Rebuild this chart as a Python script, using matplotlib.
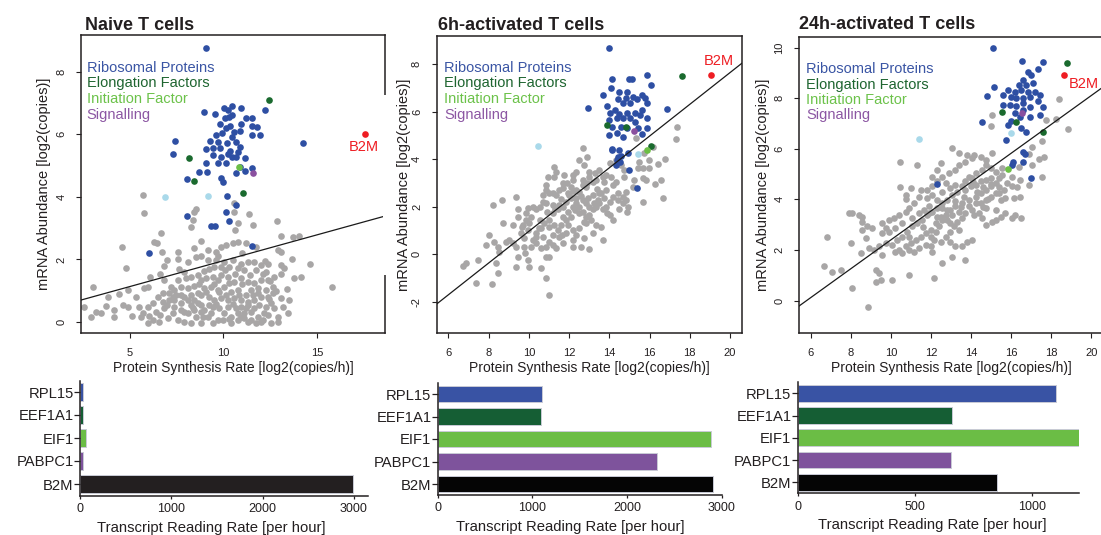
import matplotlib
matplotlib.use("Agg")
import matplotlib.pyplot as plt
import numpy as np
from matplotlib.patches import Rectangle

plt.rcParams['font.family'] = ['Liberation Sans', 'DejaVu Sans']
plt.rcParams['axes.unicode_minus'] = False

W, H = 1101, 535

# ---- data ----
titles = ["Naive T cells", "6h-activated T cells", "24h-activated T cells"]
legend_labels = ["Ribosomal Proteins", "Elongation Factors", "Initiation Factor", "Signalling"]
legend_colors = ["#3a55a4", "#1e6530", "#6cc24a", "#8c57a3"]

# other genes (grey)
naive_gray = np.array([
    (5.68,4.06),(5.73,3.47),(8.53,3.60),(8.44,3.53),(8.35,3.26),(8.26,3.05),(10.58,3.79),(10.54,3.53),
    (10.76,3.15),(10.62,2.94),(11.56,3.10),(11.35,3.44),(12.86,3.23),(6.66,2.83),(6.30,2.57),(6.44,2.51),
    (4.55,2.41),(6.71,2.25),(7.58,2.25),(8.44,2.35),(8.80,2.59),(9.15,2.30),(9.60,2.25),(9.87,2.41),
    (10.13,2.46),(10.49,2.51),(10.76,2.57),(11.20,2.51),(11.74,2.41),(13.08,2.75),(13.70,2.73),(14.06,2.75),
    (12.90,2.30),(13.08,2.25),(13.65,2.03),(14.63,1.87),(13.79,1.40),(14.14,1.43),(15.80,1.11),(4.79,1.72),
    (6.98,1.98),(6.84,1.79),(7.55,2.03),(7.64,1.68),(8.08,1.93),(8.53,2.09),(8.80,2.11),(9.15,1.98),
    (9.60,1.98),(10.04,1.93),(10.49,1.98),(10.94,1.87),(11.29,1.93),(11.65,1.93),(12.01,1.82),(12.36,1.87),
    (13.08,1.82),(13.25,1.72),(13.08,1.55),(12.72,1.45),(12.27,1.61),(11.74,1.66),(11.11,1.66),(10.76,1.72),
    (10.31,1.77),(9.87,1.77),(9.47,1.75),(8.98,1.64),(8.62,1.50),(8.26,1.45),(7.91,1.61),(7.55,1.34),
    (7.73,1.13),(7.19,1.13),(6.84,1.34),(6.62,1.55),(6.09,1.45),(5.77,1.08),(5.95,1.13),(3.00,1.11),
    (4.88,1.02),(3.81,0.81),(2.56,0.49),(3.18,0.33),(2.91,0.17),(3.45,0.28),(4.16,0.38),(4.13,0.15),
    (4.61,0.54),(4.88,0.49),(5.50,0.49),(5.68,0.28),(5.59,0.17),(5.95,0.49),(6.21,0.60),(6.39,0.33),
    (6.21,0.06),(6.62,0.22),(6.84,0.44),(7.01,0.12),(6.75,0.92),(7.10,0.92),(7.37,1.02),(7.73,0.86),
    (8.08,1.08),(8.44,1.15),(8.62,0.92),(8.80,1.34),(9.06,1.40),(9.42,1.45),(9.69,1.34),(9.87,1.50),
    (10.22,1.45),(10.58,1.29),(10.94,1.40),(11.29,1.29),(11.65,1.24),(12.01,1.34),(12.36,1.34),(12.63,1.13),
    (12.27,1.02),(11.83,0.92),(11.47,1.02),(11.20,0.86),(10.76,1.02),(10.40,0.97),(10.04,1.13),(9.69,1.02),
    (9.33,1.13),(8.98,1.08),(8.44,0.70),(8.08,0.70),(7.73,0.60),(7.37,0.49),(7.28,0.28),(7.55,0.06),
    (7.91,0.01),(8.08,0.28),(8.44,0.38),(8.80,0.33),(9.15,0.17),(9.42,-0.04),(9.69,0.06),(10.04,0.28),
    (10.40,0.17),(10.76,0.06),(11.11,0.28),(11.47,0.33),(11.83,0.17),(12.09,0.06),(12.36,0.22),(12.72,0.44),
    (13.08,0.76),(13.43,0.28),(12.90,0.17),(13.16,0.49),(13.52,0.70),(8.26,-0.04),(8.80,-0.02),(10.40,-0.04),
    (11.29,0.01),(12.01,0.01),(5.95,-0.04),(6.57,0.01),(6.75,0.65),(7.10,0.70),(7.28,0.81),(7.91,0.81),
    (8.26,0.86),(8.80,0.86),(9.24,0.81),(9.51,0.70),(9.87,0.76),(10.22,0.70),(10.58,0.76),(10.94,0.70),
    (11.29,0.65),(11.65,0.70),(12.01,0.81),(12.36,0.81),(12.63,0.92),(9.42,0.49),(9.78,0.44),(10.22,0.49),
    (10.67,0.44),(10.94,0.49),(11.29,0.54),(11.65,0.44),(12.27,0.49),(12.54,0.60),(8.80,0.54),(9.24,0.54),
    (8.26,0.54),(7.91,0.33),(7.73,0.38),(7.37,0.70),(8.89,0.17),(8.53,0.15),(9.96,0.06),(10.76,0.28),
    (11.11,0.12),(11.47,0.06),(11.74,-0.04),(12.54,-0.04),(12.90,0.01),
    (8.35,0.45),(8.62,0.62),(8.98,0.40),(9.33,0.30),(9.60,0.58),(9.78,0.95),(10.13,0.85),(10.49,0.58),
    (10.85,0.85),(11.20,0.45),(11.56,0.85),(11.92,0.55),(12.18,0.30),(12.45,0.75),(12.80,1.00),(10.30,0.10),
    (10.95,0.15),(11.85,1.10),(9.05,0.95),(8.70,1.20),(9.50,1.20),(10.30,1.25),(11.00,1.20),(11.40,1.50),
    (12.10,1.55),(12.50,1.30),(9.20,1.70),(10.10,1.65),(10.60,1.55),(9.70,2.10),(11.00,2.20),(7.00,0.55),
    (6.50,0.80),(7.45,0.85),(5.30,0.80),(5.10,0.20),(3.70,0.50),(4.40,0.90),(6.00,0.20),(13.40,1.05),
    (12.20,1.95),(8.00,1.40),
])
h6_gray = np.array([
    (17.35,5.37),(17.32,4.84),(16.79,4.00),(16.44,3.80),(15.99,3.97),(15.99,3.62),(15.66,3.62),(15.41,3.62),
    (15.46,3.90),(16.57,3.13),(16.29,2.96),(15.83,3.13),(15.66,3.20),(16.69,2.36),(15.66,2.22),(14.83,2.64),
    (14.83,2.29),(14.92,2.01),(14.87,1.80),(14.67,2.15),(14.42,2.29),(14.17,2.43),(14.01,2.22),(13.84,2.01),
    (14.01,1.65),(13.67,1.89),(13.51,2.15),(13.34,2.01),(13.18,1.89),(13.09,1.44),(12.85,1.59),(12.68,1.80),
    (12.51,2.01),(12.35,2.15),(12.18,2.01),(12.10,1.59),(11.93,1.80),(11.85,1.44),(11.69,1.59),(11.44,1.89),
    (11.19,1.73),(11.02,1.44),(10.77,1.30),(10.53,1.44),(10.36,1.89),(10.19,2.01),(9.95,1.94),(9.86,1.44),
    (10.03,1.30),(9.70,1.23),(9.45,1.89),(9.37,2.40),(8.67,2.29),(8.21,2.08),(8.70,1.33),(9.20,1.23),
    (9.62,0.88),(9.78,0.67),(9.95,1.02),(10.19,0.60),(10.36,0.88),(10.61,1.09),(11.02,1.16),(11.27,1.23),
    (11.44,1.02),(11.65,0.81),(11.93,1.23),(12.18,1.02),(12.51,1.09),(12.85,1.30),(13.34,1.23),(13.59,1.16),
    (13.18,0.88),(13.67,0.60),(14.17,1.44),(14.50,1.89),(15.16,2.85),(15.25,3.13),(14.75,3.27),(14.34,3.06),
    (14.09,3.27),(13.84,3.34),(13.76,3.06),(13.34,3.13),(13.18,3.06),(13.01,3.27),(12.85,2.85),(12.68,2.92),
    (12.51,2.64),(12.35,2.71),(12.10,2.85),(11.93,2.57),(11.69,2.78),(11.52,2.71),(11.35,2.50),(11.19,2.57),
    (11.02,2.57),(10.86,2.71),(10.69,2.50),(10.86,2.92),(10.94,3.27),(11.27,3.27),(11.35,3.48),(11.27,3.69),
    (11.69,2.99),(11.77,3.34),(12.18,3.34),(12.32,3.48),(12.51,3.97),(12.68,4.46),(12.89,4.11),(12.76,3.76),
    (12.68,3.13),(13.01,3.48),(13.31,3.41),(13.51,3.55),(13.67,3.27),(14.01,3.83),(14.34,3.97),(14.59,3.76),
    (14.75,3.55),(13.84,2.71),(13.51,2.57),(13.18,2.50),(12.93,2.36),(12.68,2.29),(12.35,2.36),(12.10,2.36),
    (11.85,2.22),(11.69,2.01),(11.52,2.08),(11.19,2.08),(10.86,2.15),(10.69,2.22),(10.53,2.01),(13.76,2.36),
    (13.43,2.29),(13.26,2.15),(14.42,2.57),(14.67,2.43),(12.85,2.15),(12.51,1.73),(13.01,1.65),(8.04,0.81),
    (7.88,0.39),(8.29,0.53),(8.45,0.32),(8.54,0.11),(8.87,0.53),(9.03,0.60),(9.20,0.46),(9.37,0.32),
    (9.78,0.32),(9.83,0.04),(10.11,0.32),(10.36,0.46),(10.61,0.25),(10.86,0.32),(11.02,0.53),(11.19,0.39),
    (11.35,0.25),(11.69,0.46),(12.18,0.32),(12.60,0.32),(13.01,0.21),(6.88,-0.35),(6.72,-0.49),(7.46,-0.24),
    (8.37,-0.38),(9.45,-0.10),(9.95,-0.24),(10.03,-0.52),(9.37,-0.55),(10.86,-0.10),(11.02,-0.10),(10.58,-0.59),
    (8.45,-0.80),(7.35,-1.22),(8.17,-1.26),(10.86,-0.98),(10.99,-1.73),(10.36,0.74),(10.69,0.74),(11.19,0.81),
    (11.52,0.74),(11.85,0.88),(12.18,0.60),(12.35,0.81),(12.76,0.67),(9.66,1.16),(9.45,1.59),(9.86,1.73),
    (10.11,1.59),(15.33,4.88),(16.16,4.53),(15.74,4.25),
    (12.0,2.5),(12.6,2.45),(13.0,2.0),(12.3,1.85),(11.6,2.35),(13.6,2.6),(12.9,3.0),(11.9,3.0),
    (13.4,2.75),(12.2,2.65),(11.3,1.9),(10.9,1.8),(14.2,2.9),(13.9,1.75),(12.75,1.35),(10.5,1.1),
    (11.6,1.25),(12.2,3.15),
])
h24_gray = np.array([
    (15.02,7.34),(14.97,6.90),(17.71,7.14),(18.21,7.17),(18.84,6.77),(17.54,6.29),(17.62,5.69),(17.51,4.88),
    (16.88,4.57),(17.04,5.36),(17.37,5.59),(17.04,6.09),(16.88,5.80),(16.38,5.30),(16.46,4.77),(16.05,4.51),
    (16.30,4.48),(16.46,4.11),(16.13,4.05),(15.71,4.05),(15.47,3.98),(15.71,3.45),(16.21,3.39),(16.51,3.26),
    (16.05,3.26),(15.47,3.32),(15.22,3.19),(15.05,3.12),(14.72,2.99),(14.55,3.26),(14.39,3.45),(14.05,3.59),
    (13.72,3.45),(13.55,3.26),(13.31,3.12),(13.14,2.94),(13.39,2.79),(12.97,2.73),(12.73,2.53),(12.97,2.33),
    (13.22,2.14),(13.55,2.14),(13.80,2.33),(14.05,2.40),(13.72,1.61),(13.06,1.74),(12.56,1.48),(12.14,0.88),
    (12.06,1.94),(11.98,2.14),(12.14,2.40),(12.39,2.94),(12.56,3.19),(12.73,3.39),(12.97,3.59),(13.22,3.72),
    (13.55,3.85),(13.89,3.98),(14.22,4.11),(14.47,4.24),(14.72,4.38),(14.97,4.51),(15.22,4.64),(15.38,4.84),
    (15.55,4.97),(15.22,5.10),(14.97,5.23),(14.72,5.36),(14.55,5.17),(14.22,5.03),(14.05,4.84),(13.72,4.71),
    (13.55,4.51),(13.31,4.31),(13.06,4.18),(12.81,3.98),(12.56,3.85),(12.31,3.65),(12.06,3.52),(11.81,3.39),
    (11.56,3.19),(11.31,3.06),(11.06,2.94),(10.81,2.73),(10.57,2.53),(10.32,2.40),(10.07,2.20),(10.40,2.00),
    (10.73,2.14),(10.98,2.27),(11.23,2.40),(11.48,2.53),(11.73,2.66),(11.98,2.79),(12.23,3.06),(12.48,3.32),
    (12.56,3.65),(12.31,3.98),(12.06,4.18),(11.81,4.38),(12.06,4.51),(12.31,4.71),(12.56,4.90),(12.89,5.03),
    (13.22,5.17),(13.39,5.36),(13.72,5.49),(14.05,5.63),(14.14,5.76),(14.47,5.69),(14.72,5.56),(15.02,5.83),
    (13.80,5.76),(13.39,5.83),(13.06,6.02),(12.48,5.43),(12.31,5.17),(12.06,4.88),(11.31,5.36),(10.48,5.49),
    (10.48,4.48),(10.73,4.18),(10.73,4.01),(10.98,4.44),(11.15,3.85),(11.40,4.11),(11.48,4.38),(11.81,4.05),
    (12.56,4.31),(12.97,4.44),(13.22,4.57),(13.72,4.38),(13.97,4.51),(14.22,4.57),(14.47,4.71),(14.72,4.77),
    (14.97,4.84),(15.38,4.24),(15.63,4.38),(15.80,4.64),(16.05,4.90),(15.55,5.23),(15.22,4.24),(14.97,4.11),
    (14.72,3.98),(14.47,3.85),(14.22,3.85),(13.89,3.72),(14.14,3.39),(14.72,3.65),(15.22,3.59),(13.39,3.52),
    (13.06,3.39),(12.81,3.19),(12.97,3.06),(12.23,2.73),(11.98,2.53),(12.48,2.33),(11.73,2.20),(11.40,2.07),
    (11.15,1.94),(10.90,2.00),(10.57,1.87),(10.23,1.94),(9.74,2.27),(9.40,2.14),(9.15,2.00),(9.57,1.81),
    (9.24,1.21),(9.40,1.08),(9.49,0.82),(10.07,0.82),(9.24,0.75),(8.90,2.07),(8.74,2.46),(8.57,2.79),
    (8.82,2.94),(9.07,2.86),(9.57,3.06),(9.74,2.86),(9.90,3.19),(10.15,3.26),(10.40,3.39),(10.73,3.52),
    (10.90,3.65),(8.57,3.12),(8.41,3.39),(8.07,3.45),(7.91,3.45),(8.57,3.32),(7.99,2.27),(8.49,1.90),
    (7.49,1.21),(7.08,1.15),(6.66,1.35),(6.83,2.50),(8.07,0.49),(8.87,-0.24),(10.90,1.02),(9.90,2.73),
    (10.23,2.86),(9.57,2.66),(10.57,3.06),(11.06,3.26),(11.40,3.45),(11.65,3.59),(11.89,3.72),(18.39,7.97),
    (14.3,4.3),(14.6,4.5),(14.85,4.0),(13.65,4.1),(14.1,4.7),(15.0,4.6),(13.5,3.7),(12.8,3.6),
    (12.3,3.3),(11.9,3.45),(13.2,3.95),(14.6,3.7),(15.4,4.5),(13.9,4.9),(12.75,4.65),(11.6,2.9),
    (10.9,2.5),
])

# ribosomal proteins (blue)
naive_ribo = np.array([
    (9.09,8.76),(8.97,6.70),(9.57,6.65),(10.02,6.83),(10.25,6.77),(10.48,6.90),(10.94,6.83),(12.24,6.77),
    (10.27,6.56),(10.07,6.51),(11.23,6.51),(11.50,6.51),(10.48,6.60),(9.80,6.33),(10.37,6.26),(10.16,6.19),
    (10.96,6.33),(11.50,6.26),(11.80,6.24),(7.40,5.79),(9.59,5.97),(9.94,6.05),(10.43,5.92),(10.91,6.11),
    (10.57,6.08),(11.50,5.97),(11.98,5.97),(14.25,5.73),(9.27,5.79),(9.72,5.76),(10.20,5.71),(10.69,5.76),
    (10.87,5.60),(9.04,5.53),(9.84,5.55),(9.45,5.57),(10.34,5.47),(10.78,5.44),(7.28,5.37),(9.45,5.34),
    (9.89,5.28),(10.25,5.37),(10.48,5.28),(10.69,5.26),(11.14,5.23),(9.04,5.07),(10.16,5.07),(9.72,5.09),
    (10.91,4.96),(8.70,4.78),(9.13,4.79),(10.69,4.75),(11.14,4.83),(11.55,4.91),(8.06,4.56),(9.89,4.59),
    (9.95,4.48),(10.21,4.03),(10.69,3.74),(8.03,3.39),(10.12,3.53),(10.30,3.23),(9.31,3.07),(9.54,3.07),
    (6.01,2.22),(11.53,2.43),
])
h6_ribo = np.array([
    (14.00,8.70),(14.15,7.37),(14.99,7.38),(15.11,7.38),(15.86,7.55),(16.06,7.13),(14.07,6.99),(13.71,6.71),
    (14.50,6.85),(14.86,6.85),(14.45,6.53),(14.83,6.57),(15.20,6.64),(15.36,6.53),(15.61,6.71),(15.78,6.57),
    (14.70,6.36),(15.03,6.36),(15.86,6.36),(16.89,6.11),(12.96,6.18),(13.90,6.25),(14.28,6.08),(14.04,5.94),
    (14.50,5.91),(14.86,5.97),(15.28,5.97),(15.61,6.08),(15.53,5.87),(15.86,5.73),(14.37,5.73),(14.70,5.73),
    (15.03,5.73),(14.00,5.66),(14.15,5.38),(14.57,5.38),(14.90,5.31),(15.28,5.59),(15.44,5.31),(15.86,5.31),
    (14.00,5.03),(14.37,5.10),(14.70,4.93),(15.61,5.07),(14.15,4.42),(14.50,4.39),(14.95,4.25),(14.37,3.97),
    (14.53,3.87),(14.33,3.76),(14.99,3.55),(15.36,2.78),(14.45,4.11),(14.12,4.39),(14.60,4.15),
])
h24_ribo = np.array([
    (15.10,10.0),(16.54,9.47),(17.56,9.42),(17.34,9.16),(15.13,8.46),(14.77,8.10),(14.52,7.04),(16.84,9.05),
    (17.01,8.92),(16.60,8.72),(16.40,8.53),(16.76,8.53),(17.09,8.59),(15.85,8.33),(16.18,8.26),(16.51,8.33),
    (16.84,8.26),(17.18,8.26),(17.42,8.13),(15.60,8.13),(16.01,8.06),(16.26,8.00),(16.59,8.00),(16.93,8.06),
    (17.34,7.87),(16.59,7.80),(16.26,7.70),(16.93,7.67),(17.59,7.64),(15.60,7.74),(15.93,7.74),(16.59,7.54),
    (17.42,7.34),(16.93,7.25),(16.01,7.08),(15.85,6.95),(16.51,6.81),(16.73,6.68),(15.76,6.35),(16.59,5.89),
    (16.68,5.80),(16.59,5.49),(16.10,5.49),(16.06,5.34),(17.01,4.84),(12.28,4.61),(16.43,7.27),(16.18,7.40),
])

# elongation factors (dark green), initiation factor, signalling, light blue genes
naive_elong = np.array([(12.44,7.09),(8.15,5.25),(8.43,4.50),(11.05,4.13)])
h6_elong = np.array([(17.60,7.51),(13.90,5.45),(14.83,5.38),(16.08,4.58)])
h24_elong = np.array([(18.79,9.41),(15.52,7.47),(16.26,7.04),(17.59,6.68)])
naive_init = np.array([(10.82,4.96)])
h6_init = np.array([(15.86,4.39)])
h24_init = np.array([(15.85,5.20)])
naive_signal = np.array([(11.58,4.75)])
h6_signal = np.array([(15.23,5.21)])
h24_signal = np.array([(16.53,7.40)])
naive_other = np.array([(6.87,4.00),(9.18,4.03)])
h6_other = np.array([(10.44,4.58),(15.41,4.23)])
h24_other = np.array([(11.40,6.38),(15.98,6.62)])
b2m_points = [(17.58,6.01), (19.04,7.54), (18.64,8.91)]

# fitted lines (slope, intercept)
fits = [(0.165, 0.31), (0.668, -5.71), (0.571, -3.31)]

genes = ["RPL15", "EEF1A1", "EIF1", "PABPC1", "B2M"]
rates_naive = [36, 38, 66, 34, 2993]
rates_6h = [1105, 1091, 2883, 2319, 2904]
rates_24h = [1102, 661, 1203, 655, 850]

# ---- styling ----
GRAY = "#a8a6a6"
BLUE = "#2e4fa3"
DKGREEN = "#1a6a2e"
LTGREEN = "#6cbf45"
PURPLE = "#8a509f"
LTBLUE = "#a9d9ea"
RED = "#ee1d23"
INK = "#231f20"
DOT = 23
bar_colors = ["#3953a4", "#155e34", "#6bbd45", "#7e539c", "#050505"]


def px_axes(fig, left, top, right, bottom):
    return fig.add_axes([left / W, 1 - bottom / H, (right - left) / W, (bottom - top) / H])


fig = plt.figure(figsize=(W / 100, H / 100), dpi=100)

scatter_boxes = [(81, 35, 385, 333), (436.7, 36, 741.7, 333), (799, 36.7, 1103.5, 333)]
xlims = [(2.38, 18.64), (5.42, 20.58), (5.42, 20.6)]
ylims = [(-0.35, 9.17), (-3.31, 9.19), (-1.28, 10.43)]
xticks = [[5, 10, 15], list(range(6, 21, 2)), list(range(6, 21, 2))]
yticks = [[0, 2, 4, 6, 8], [-2, 0, 2, 4, 6, 8], [0, 2, 4, 6, 8, 10]]
ylab_x = [-0.122, -0.107, -0.117]
title_pos = [(0.013, 1.017), (0.003, 1.020), (0.0, 1.025)]
legend_x = [0.019, 0.024, 0.023]
legend_base = [[71.7, 87.4, 103.1, 118.8], [71.7, 87.4, 103.1, 118.8], [73.3, 88.5, 103.7, 119.0]]
b2m_offsets = [(-1, -9.6), (6, 10.3), (13.8, -6.3)]

groups = [
    (naive_gray, naive_ribo, naive_elong, naive_init, naive_signal, naive_other),
    (h6_gray, h6_ribo, h6_elong, h6_init, h6_signal, h6_other),
    (h24_gray, h24_ribo, h24_elong, h24_init, h24_signal, h24_other),
]

for i, box in enumerate(scatter_boxes):
    ax = px_axes(fig, *box)
    gray, ribo, elong, init, signal, other = groups[i]
    ax.scatter(gray[:, 0], gray[:, 1], s=DOT, color=GRAY, linewidths=0, zorder=2)
    ax.scatter(other[:, 0], other[:, 1], s=DOT, color=LTBLUE, linewidths=0, zorder=3)
    ax.scatter(ribo[:, 0], ribo[:, 1], s=DOT, color=BLUE, linewidths=0, zorder=3)
    ax.scatter(elong[:, 0], elong[:, 1], s=DOT, color=DKGREEN, linewidths=0, zorder=4)
    ax.scatter(init[:, 0], init[:, 1], s=DOT, color=LTGREEN, linewidths=0, zorder=4)
    ax.scatter(signal[:, 0], signal[:, 1], s=DOT, color=PURPLE, linewidths=0, zorder=4)
    bx, by = b2m_points[i]
    ax.scatter([bx], [by], s=DOT, color=RED, linewidths=0, zorder=4)
    ax.annotate("B2M", (bx, by), xytext=b2m_offsets[i], textcoords="offset points",
                ha="center", va="center", color=RED, fontsize=10.5)
    m, b = fits[i]
    ax.axline((0, b), slope=m, color="#1a1a1a", lw=0.9, zorder=5)

    ax.set_xlim(*xlims[i])
    ax.set_ylim(*ylims[i])
    ax.set_xticks(xticks[i])
    ax.set_yticks(yticks[i])
    ax.tick_params(axis="both", length=3.6, width=0.8, color=INK, labelsize=8, labelcolor=INK, pad=7)
    ax.tick_params(axis="y", labelrotation=90)
    for lab in ax.get_yticklabels():
        lab.set_va("center")
    for sp in ax.spines.values():
        sp.set_linewidth(1.1)
        sp.set_color(INK)

    ax.set_xlabel("Protein Synthesis Rate [log2(copies/h)]", fontsize=10, color=INK, va="center")
    ax.xaxis.set_label_coords(0.5, -0.117)
    ax.set_ylabel("mRNA Abundance [log2(copies)]", fontsize=10.5, color=INK, va="center")
    ax.yaxis.set_label_coords(ylab_x[i], 0.5)

    tx, ty = title_pos[i]
    ax.text(tx, ty, titles[i], transform=ax.transAxes, fontsize=13, fontweight="bold",
            color=INK, ha="left", va="baseline")
    box_top, box_bottom = box[1], box[3]
    for lab, col, base in zip(legend_labels, legend_colors, legend_base[i]):
        ax.text(legend_x[i], (box_bottom - base) / (box_bottom - box_top), lab, transform=ax.transAxes,
                fontsize=10.5, color=col, ha="left", va="baseline")

# the naive panel's right frame is partly hidden behind the next panel
fig.add_artist(Rectangle((382.8 / W, 1 - 275 / H), 5 / W, 180 / H, transform=fig.transFigure,
                         facecolor="white", edgecolor="none", zorder=10))

# ---- bar panels ----
bar_boxes = [(80, 380.5, 367.6, 495.5), (437.7, 382.75, 721.7, 495.25), (797.7, 382.2, 1079.3, 493.4)]
bar_xlims = [(0, 3150), (0, 3000), (0, 1203)]
bar_xticks = [[0, 1000, 2000, 3000], [0, 1000, 2000, 3000], [0, 500, 1000]]
bar_data = [rates_naive, rates_6h, rates_24h]
b2m_bar = ["#231f20", "#050505", "#050505"]
xlab_x = [0.455, 0.468, 0.477]

for i, box in enumerate(bar_boxes):
    ax = px_axes(fig, *box)
    cols = bar_colors[:-1] + [b2m_bar[i]]
    ax.barh(range(len(genes)), bar_data[i], height=0.75, color=cols, edgecolor="#c9cbd6", linewidth=0.7)
    ax.set_yticks(range(len(genes)))
    ax.set_yticklabels(genes)
    ax.set_ylim(len(genes) - 0.5, -0.5)
    ax.set_xlim(*bar_xlims[i])
    ax.set_xticks(bar_xticks[i])
    ax.spines["top"].set_visible(False)
    ax.spines["right"].set_visible(False)
    for sp in ("left", "bottom"):
        ax.spines[sp].set_linewidth(1.1)
        ax.spines[sp].set_color(INK)
    ax.tick_params(axis="y", length=4, width=0.9, color=INK, labelsize=10.6, labelcolor=INK, pad=0.5)
    ax.tick_params(axis="x", length=2.2, width=0.9, color=INK, labelsize=9, labelcolor=INK, pad=3)
    ax.set_xlabel("Transcript Reading Rate [per hour]", fontsize=10.7, color=INK, va="center")
    ax.xaxis.set_label_coords(xlab_x[i], -0.28)

fig.savefig("out.png", dpi=100)
